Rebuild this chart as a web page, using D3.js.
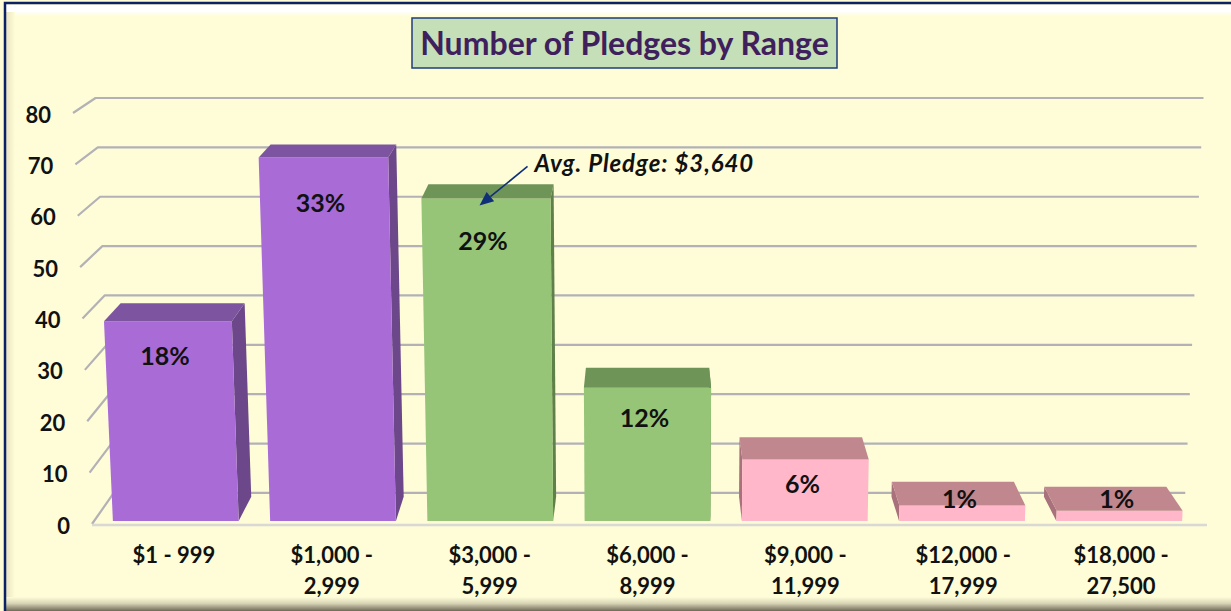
<!DOCTYPE html>
<html>
<head>
<meta charset="utf-8">
<script src="https://cdn.jsdelivr.net/npm/d3@7"></script>
<style>
  body { margin: 0; background: #fefdd8; }
  svg { display: block; font-family: Lato, 'Open Sans', sans-serif; }
</style>
</head>
<body>
<div id="viz"></div>
<script>
// data
const categories = ['$1 - 999', '$1,000 - 2,999', '$3,000 - 5,999', '$6,000 - 8,999',
  '$9,000 - 11,999', '$12,000 - 17,999', '$18,000 - 27,500'];
const tickLines = [['$1 - 999'], ['$1,000 -', '2,999'], ['$3,000 -', '5,999'], ['$6,000 -', '8,999'],
  ['$9,000 -', '11,999'], ['$12,000 -', '17,999'], ['$18,000 -', '27,500']];
const counts = [39, 71, 63, 26, 12, 3, 2];
const yTicks = [0, 10, 20, 30, 40, 50, 60, 70, 80];
const title = 'Number of Pledges by Range';
const avgText = 'Avg. Pledge: $3,640';
const avgCategory = '$3,000 - 5,999';

const width = 1231, height = 611;
const total = d3.sum(counts);

const svg = d3.select('#viz').append('svg')
  .attr('width', width)
  .attr('height', height);

// frame
const defs = svg.append('defs');
const gTop = defs.append('linearGradient').attr('id', 'gTop').attr('x1', 0).attr('y1', 0).attr('x2', 0).attr('y2', 1);
gTop.append('stop').attr('offset', 0).attr('stop-color', '#ffffff');
gTop.append('stop').attr('offset', 0.6).attr('stop-color', '#ffffff');
gTop.append('stop').attr('offset', 1).attr('stop-color', '#fefdd8');
const gLeft = defs.append('linearGradient').attr('id', 'gLeft').attr('x1', 0).attr('y1', 0).attr('x2', 1).attr('y2', 0);
gLeft.append('stop').attr('offset', 0).attr('stop-color', '#e9e4bf');
gLeft.append('stop').attr('offset', 1).attr('stop-color', '#fefdd8');
const gBot = defs.append('linearGradient').attr('id', 'gBot').attr('x1', 0).attr('y1', 0).attr('x2', 0).attr('y2', 1);
gBot.append('stop').attr('offset', 0).attr('stop-color', '#fefdd8');
gBot.append('stop').attr('offset', 0.45).attr('stop-color', '#d9d5b6');
gBot.append('stop').attr('offset', 1).attr('stop-color', '#6f6a58');

svg.append('rect').attr('width', width).attr('height', height).attr('fill', '#fefdd8');
svg.append('rect').attr('x', 6).attr('y', 5).attr('width', width).attr('height', 11).attr('fill', 'url(#gTop)');
svg.append('rect').attr('x', 6).attr('y', 12).attr('width', 9).attr('height', height).attr('fill', 'url(#gLeft)');
svg.append('rect').attr('x', 6).attr('y', 597).attr('width', width).attr('height', 14).attr('fill', 'url(#gBot)');
svg.append('path')
  .attr('d', `M5,${height} V3 H${width}`)
  .attr('fill', 'none')
  .attr('stroke', '#0b2266')
  .attr('stroke-width', 2.5);

// 3d projection of the plot box
const plotLeft = 92, plotRight = 1207, floorY = 524;
const VX = 650, VY = -272, NY = 12600;

const yScale = d3.scaleLinear().domain([0, 80]).range([floorY, 113]);
const xScale = d3.scaleBand().domain(categories).range([95, 1200])
  .paddingInner(0.2).paddingOuter(0.1);
const depth = d3.scaleLinear().domain([0, 1]).range([0, 0.039]);

function project(x, v, t) {
  const y0 = yScale(v);
  const k = (NY - y0) / (NY - floorY);
  const x0 = VX + (x - VX) * k;
  const s = depth(t);
  return [x0 + (VX - x0) * s, y0 + (VY - y0) * s];
}
const poly = pts => 'M' + pts.map(p => p.join(',')).join('L') + 'Z';

// walls
const grid = svg.append('g');
yTicks.forEach(v => {
  const a = project(plotLeft, v, 0), b = project(plotLeft, v, 1), c = project(plotRight, v, 1);
  grid.append('path')
    .attr('d', `M${a}L${b}L${c}`)
    .attr('fill', 'none')
    .attr('stroke', '#b4b1b6')
    .attr('stroke-width', 2.2)
    .attr('stroke-linejoin', 'round');
});
const f0 = project(plotLeft, 0, 0), f1 = project(plotRight, 0, 0);
grid.append('line')
  .attr('x1', f0[0]).attr('y1', f0[1] + 1)
  .attr('x2', f1[0]).attr('y2', f1[1] + 1)
  .attr('stroke', '#d9d8d2')
  .attr('stroke-width', 2.5);

// y axis labels
svg.append('g').selectAll('text')
  .data(yTicks)
  .enter().append('text')
  .attr('x', d => project(plotLeft, d, 0)[0] - 22)
  .attr('y', d => project(plotLeft, d, 0)[1] + 1)
  .attr('text-anchor', 'end')
  .attr('dominant-baseline', 'central')
  .style('font-size', '22px')
  .style('font-weight', 700)
  .style('fill', '#111')
  .text(d => d);

// bars
const front = d3.scaleOrdinal().domain(categories)
  .range(['#a96cd6', '#a96cd6', '#96c577', '#96c577', '#ffb7c9', '#ffb7c9', '#ffb7c9']);
const topC = d3.scaleOrdinal().domain(categories)
  .range(['#7d549f', '#7d549f', '#6f9457', '#6f9457', '#c1878f', '#c1878f', '#c1878f']);
const sideC = d3.scaleOrdinal().domain(categories)
  .range(['#6c4789', '#6c4789', '#5f8049', '#5f8049', '#a8717b', '#a8717b', '#a8717b']);

const tF = 0.1, tB = 0.88;
const bars = svg.append('g').selectAll('g')
  .data(categories.map((c, i) => ({ cat: c, value: counts[i] })))
  .enter().append('g');

bars.append('path')
  .attr('d', d => {
    const xl = xScale(d.cat), xr = xl + xScale.bandwidth();
    const xs = (xl + xr) / 2 < VX ? xr : xl;
    return poly([project(xs, 0, tF), project(xs, d.value, tF), project(xs, d.value, tB), project(xs, 0, tB)]);
  })
  .attr('fill', d => sideC(d.cat));

bars.append('path')
  .attr('d', d => {
    const xl = xScale(d.cat), xr = xl + xScale.bandwidth();
    return poly([project(xl, 0, tF), project(xr, 0, tF), project(xr, d.value, tF), project(xl, d.value, tF)]);
  })
  .attr('fill', d => front(d.cat));

bars.append('path')
  .attr('d', d => {
    const xl = xScale(d.cat), xr = xl + xScale.bandwidth();
    return poly([project(xl, d.value, tF), project(xr, d.value, tF), project(xr, d.value, tB), project(xl, d.value, tB)]);
  })
  .attr('fill', d => topC(d.cat));

// percentage labels
const labelY = d3.scaleLinear().domain([0, 80]).range([540.5, 159]);
bars.append('text')
  .attr('x', d => project(xScale(d.cat) + xScale.bandwidth() / 2, d.value, tF)[0] - 3)
  .attr('y', d => Math.min(labelY(d.value), 498))
  .attr('text-anchor', 'middle')
  .attr('dominant-baseline', 'central')
  .style('font-size', '25px')
  .style('font-weight', 700)
  .style('fill', '#111')
  .text(d => d3.format('.0%')(d.value / total));

// x axis labels
const xl = svg.append('g').selectAll('text')
  .data(categories)
  .enter().append('text')
  .attr('x', d => project(xScale(d) + xScale.bandwidth() / 2, 0, 0)[0])
  .attr('y', 563)
  .attr('text-anchor', 'middle')
  .style('font-size', '22px')
  .style('font-weight', 700)
  .style('fill', '#111');
xl.each(function(d, i) {
  const t = d3.select(this);
  tickLines[i].forEach((line, j) => {
    t.append('tspan')
      .attr('x', t.attr('x'))
      .attr('dy', j === 0 ? 0 : 31)
      .text(line);
  });
});

// average annotation
const avgVal = counts[categories.indexOf(avgCategory)];
const tip = project(xScale(avgCategory) + xScale.bandwidth() * 0.45, avgVal, tF);
tip[1] += 7;
const tail = [tip[0] + 48, tip[1] - 39];
const ang = Math.atan2(tip[1] - tail[1], tip[0] - tail[0]);
const head = 14, half = 6;
const base = [tip[0] - head * Math.cos(ang), tip[1] - head * Math.sin(ang)];
svg.append('line')
  .attr('x1', tail[0]).attr('y1', tail[1])
  .attr('x2', base[0]).attr('y2', base[1])
  .attr('stroke', '#0f2f78')
  .attr('stroke-width', 1.6);
svg.append('path')
  .attr('d', poly([tip,
    [base[0] + half * Math.sin(ang), base[1] - half * Math.cos(ang)],
    [base[0] - half * Math.sin(ang), base[1] + half * Math.cos(ang)]]))
  .attr('fill', '#0f2f78');
svg.append('text')
  .attr('x', tail[0] + 7)
  .attr('y', tail[1] + 6)
  .style('font-size', '24px')
  .style('font-weight', 700)
  .style('font-style', 'italic')
  .style('letter-spacing', '0.9px')
  .style('fill', '#111')
  .text(avgText);

// title
svg.append('rect')
  .attr('x', 412).attr('y', 18)
  .attr('width', 425).attr('height', 50)
  .attr('fill', '#c5dfb8')
  .attr('stroke', '#1f3c7c')
  .attr('stroke-width', 1.5);
svg.append('text')
  .attr('x', 624.5)
  .attr('y', 55)
  .attr('text-anchor', 'middle')
  .style('font-size', '32px')
  .style('font-weight', 700)
  .style('fill', '#40205c')
  .text(title);
</script>
</body>
</html>
